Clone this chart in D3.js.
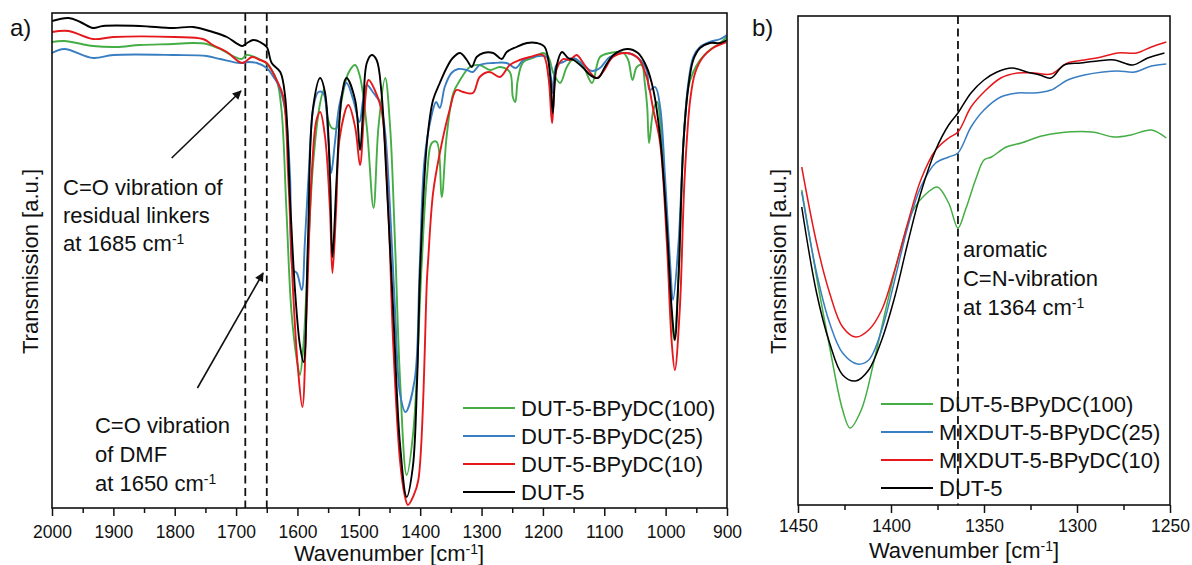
<!DOCTYPE html>
<html>
<head>
<meta charset="utf-8">
<script src="https://cdn.jsdelivr.net/npm/d3@7/dist/d3.min.js"></script>
<style>
  body { margin: 0; background: #fff; }
  svg { display: block; }
  text { font-family: 'Liberation Sans', Arial, Helvetica, sans-serif; fill: #111; }
</style>
</head>
<body>
<svg id="chart" width="1192" height="565"></svg>
<script>
// ---- panel a) spectra: [wavenumber, transmission (a.u.)] ----
const bpy100A = [[2000,466],[1980,467],[1933,462],[1895,461],[1857,463],[1802,464],[1770,465],[1748,464],[1726,459],[1705,452],[1691,449],[1683,453],[1666,450],[1650,444],[1634,428],[1626,398],[1618,298],[1610,198],[1601,148],[1596,133],[1590,165],[1582,265],[1574,348],[1563,405],[1557,418],[1550,388],[1544,380],[1536,380],[1528,408],[1517,435],[1506,443],[1498,431],[1487,381],[1476,300],[1468,381],[1457,430],[1449,381],[1441,265],[1433,131],[1422,33],[1411,78],[1398,238],[1389,331],[1381,365],[1373,366],[1365,311],[1357,371],[1346,415],[1335,428],[1319,441],[1303,443],[1286,438],[1270,441],[1254,436],[1249,411],[1245,406],[1241,428],[1232,446],[1216,450],[1200,455],[1191,451],[1183,435],[1172,425],[1161,441],[1150,449],[1134,441],[1120,425],[1107,451],[1091,455],[1069,455],[1061,448],[1054,428],[1047,441],[1039,443],[1034,425],[1030,401],[1027,365],[1020,398],[1014,406],[1006,365],[998,281],[990,191],[986,168],[979,231],[971,365],[963,421],[955,436],[944,448],[928,458],[911,465],[900,471]];

const bpy25A = [[2000,455],[1980,459],[1933,450],[1900,453],[1800,453],[1748,452],[1726,449],[1694,445],[1680,446],[1666,445],[1650,440],[1639,431],[1631,423],[1620,398],[1612,331],[1607,238],[1601,235],[1593,218],[1588,265],[1582,331],[1574,401],[1566,416],[1558,415],[1550,371],[1545,335],[1539,365],[1531,405],[1520,425],[1509,408],[1499,386],[1493,408],[1487,423],[1476,415],[1466,406],[1458,381],[1449,298],[1441,198],[1433,115],[1424,96],[1409,128],[1401,238],[1393,348],[1382,391],[1374,406],[1368,400],[1360,421],[1349,435],[1338,439],[1324,438],[1314,436],[1303,443],[1281,445],[1259,445],[1244,440],[1232,448],[1216,451],[1194,451],[1187,431],[1184,415],[1178,443],[1167,446],[1150,450],[1134,443],[1120,437],[1107,440],[1091,451],[1063,455],[1045,450],[1031,438],[1026,418],[1017,421],[1009,401],[1001,331],[993,248],[988,208],[979,265],[971,365],[963,425],[955,451],[944,461],[928,466],[911,469],[900,473]];

const bpy10A = [[2000,476],[1973,477],[1933,469],[1900,471],[1800,471],[1754,469],[1738,463],[1715,456],[1690,445],[1674,451],[1661,448],[1650,445],[1634,428],[1623,411],[1615,331],[1607,215],[1599,138],[1592,101],[1585,198],[1577,331],[1569,388],[1563,396],[1555,371],[1547,298],[1543,235],[1537,298],[1531,371],[1517,403],[1506,381],[1498,343],[1491,398],[1484,428],[1474,418],[1463,398],[1452,298],[1444,165],[1433,48],[1425,12],[1420,3],[1411,12],[1403,28],[1389,228],[1387,248],[1379,315],[1368,355],[1352,398],[1341,418],[1330,416],[1314,415],[1303,431],[1287,436],[1270,431],[1254,443],[1238,448],[1221,451],[1200,453],[1191,431],[1185,385],[1178,438],[1167,449],[1156,448],[1145,453],[1132,443],[1113,430],[1102,436],[1086,451],[1064,455],[1045,450],[1031,431],[1020,398],[1009,365],[998,265],[990,165],[985,138],[977,198],[969,331],[960,408],[952,435],[939,451],[923,460],[901,466]];

const dut5A = [[2000,487],[1973,490],[1954,486],[1933,480],[1917,482],[1857,482],[1803,480],[1770,481],[1738,476],[1715,471],[1690,462],[1682,465],[1672,468],[1661,466],[1650,461],[1642,445],[1628,436],[1620,411],[1612,308],[1604,218],[1596,163],[1590,146],[1583,265],[1575,398],[1563,430],[1555,415],[1547,331],[1543,251],[1536,331],[1528,411],[1520,430],[1506,408],[1498,358],[1493,398],[1487,445],[1479,453],[1471,448],[1463,415],[1455,331],[1444,198],[1433,65],[1422,11],[1412,41],[1405,128],[1400,238],[1389,365],[1379,408],[1368,425],[1357,440],[1347,450],[1335,455],[1324,448],[1316,441],[1308,451],[1297,455],[1281,455],[1267,449],[1259,456],[1243,461],[1226,465],[1210,465],[1197,461],[1188,431],[1184,395],[1178,441],[1169,456],[1159,450],[1150,448],[1134,440],[1123,433],[1110,430],[1099,441],[1085,453],[1063,459],[1045,455],[1031,441],[1020,418],[1009,371],[998,281],[990,198],[985,168],[979,231],[971,365],[963,421],[955,448],[944,460],[928,465],[911,465],[900,468]];

// ---- panel b) zoom 1450-1250 ----
const bpy100B = [[1448,315],[1440,228],[1433,158],[1426,95],[1422,77],[1416,95],[1409,145],[1402,202],[1395,255],[1388,295],[1380,313],[1375,318],[1369,302],[1364,277],[1360,295],[1354,328],[1350,345],[1346,348],[1338,358],[1330,362],[1319,369],[1310,372],[1292,373],[1280,368],[1271,370],[1260,375],[1252,367]];
const bpy25B = [[1448,313],[1440,232],[1433,182],[1426,152],[1418,141],[1412,145],[1405,175],[1398,225],[1391,278],[1384,318],[1376,342],[1369,348],[1364,352],[1357,378],[1350,395],[1341,408],[1332,412],[1323,412],[1314,415],[1305,425],[1296,430],[1286,433],[1278,434],[1269,433],[1260,439],[1252,441]];
const bpy10B = [[1448,338],[1440,262],[1433,212],[1426,178],[1419,168],[1412,175],[1405,195],[1398,235],[1391,282],[1384,325],[1376,355],[1369,367],[1364,373],[1357,398],[1350,413],[1341,427],[1332,432],[1323,432],[1314,431],[1305,442],[1296,445],[1287,448],[1278,452],[1268,452],[1260,458],[1252,463]];
const dut5B = [[1448,298],[1440,212],[1433,162],[1426,130],[1419,124],[1412,135],[1405,165],[1398,208],[1391,262],[1384,312],[1376,355],[1369,380],[1364,392],[1357,412],[1350,425],[1343,433],[1335,437],[1327,433],[1320,430],[1314,427],[1307,440],[1298,442],[1289,444],[1280,445],[1270,440],[1262,447],[1253,452]];

const ticksA = [2000, 1900, 1800, 1700, 1600, 1500, 1400, 1300, 1200, 1100, 1000, 900];
const ticksB = [1450, 1400, 1350, 1300, 1250];
const namesA = ["DUT-5-BPyDC(100)", "DUT-5-BPyDC(25)", "DUT-5-BPyDC(10)", "DUT-5"];
const namesB = ["DUT-5-BPyDC(100)", "MIXDUT-5-BPyDC(25)", "MIXDUT-5-BPyDC(10)", "DUT-5"];
const colors = ["#45ad45", "#3a7ec2", "#e5191c", "#000000"];

const svg = d3.select("#chart");

function superLabel(sel, main, sup, tail) {
    sel.append("tspan").text(main);
    sel.append("tspan").attr("dy", -7).style("font-size", "14px").text(sup);
    if (tail) sel.append("tspan").attr("dy", 7).text(tail);
}

function drawPanel(p) {
    const x = d3.scaleLinear().domain(p.xDomain).range([p.left, p.right]);
    const y = d3.scaleLinear().domain(p.yDomain).range([p.bottom, p.top]);
    const g = svg.append("g");

    // dashed markers
    p.markers.forEach(m => {
        g.append("line")
            .attr("x1", x(m)).attr("x2", x(m))
            .attr("y1", p.top).attr("y2", p.bottom)
            .attr("stroke", "#111").attr("stroke-width", 1.8)
            .attr("stroke-dasharray", "8,4.5");
    });

    const line = d3.line()
        .x(d => x(d[0]))
        .y(d => y(d[1]))
        .curve(d3.curveCatmullRom.alpha(0.5));

    g.append("clipPath").attr("id", "clip" + p.id)
        .append("rect").attr("x", p.left).attr("y", p.top)
        .attr("width", p.right - p.left).attr("height", p.bottom - p.top);

    g.append("g").attr("clip-path", `url(#clip${p.id})`)
        .selectAll("path")
        .data(p.series)
        .enter().append("path")
        .attr("d", (d) => line(d))
        .attr("fill", "none")
        .attr("stroke", (d, i) => colors[i])
        .attr("stroke-width", p.lw)
        .attr("stroke-linejoin", "round");

    // frame
    g.append("rect")
        .attr("x", p.left).attr("y", p.top)
        .attr("width", p.right - p.left).attr("height", p.bottom - p.top)
        .attr("fill", "none").attr("stroke", "#111").attr("stroke-width", 1.6);

    // axis: major + minor ticks
    const major = g.append("g")
        .attr("transform", `translate(0,${p.bottom})`)
        .call(d3.axisBottom(x).tickValues(p.ticks).tickSize(8).tickFormat(d3.format("d")));
    major.select(".domain").remove();
    major.selectAll("line").attr("stroke", "#111").attr("stroke-width", 1.5);
    major.selectAll("text")
        .attr("y", p.tickTextY).attr("dy", 0)
        .style("font-size", "17.5px")
        .style("font-family", "'Liberation Sans', Arial, sans-serif")
        .attr("fill", "#111");

    const minor = g.append("g")
        .attr("transform", `translate(0,${p.bottom})`)
        .call(d3.axisBottom(x).tickValues(p.minorTicks).tickSize(5).tickFormat(""));
    minor.select(".domain").remove();
    minor.selectAll("line").attr("stroke", "#111").attr("stroke-width", 1.5);

    // axis titles
    const xt = g.append("text")
        .attr("x", p.xTitleX).attr("y", p.xTitleY)
        .attr("text-anchor", "middle")
        .style("font-size", "22px");
    superLabel(xt, "Wavenumber [cm", "-1", "]");

    g.append("text")
        .attr("transform", `translate(${p.yTitleX},${(p.top + p.bottom) / 2 + 1}) rotate(-90)`)
        .attr("text-anchor", "middle")
        .style("font-size", "22px")
        .text("Transmission [a.u.]");

    g.append("text")
        .attr("x", p.tagX).attr("y", 36)
        .style("font-size", "24px")
        .text(p.tag);

    // legend
    const leg = g.append("g");
    p.names.forEach((name, i) => {
        const ly = p.legendY + i * 28;
        leg.append("line")
            .attr("x1", p.legendX).attr("x2", p.legendX + 52)
            .attr("y1", ly).attr("y2", ly)
            .attr("stroke", colors[i]).attr("stroke-width", 2);
        leg.append("text")
            .attr("x", p.legendX + 58).attr("y", ly + 8)
            .style("font-size", "22px")
            .text(name);
    });

    return { x, y, g };
}

const minorA = d3.range(950, 2000, 100);
const minorB = d3.range(1275, 1450, 50);

const a = drawPanel({
    id: "a", xDomain: [2000, 900], yDomain: [0, 495],
    left: 52, right: 727, top: 13, bottom: 508,
    series: [bpy100A, bpy25A, bpy10A, dut5A], lw: 1.9,
    markers: [1685, 1650], ticks: ticksA, minorTicks: minorA,
    tickTextY: 30, xTitleX: 389, xTitleY: 561, yTitleX: 38,
    tag: "a)", tagX: 10, names: namesA, legendX: 463, legendY: 408
});

const b = drawPanel({
    id: "b", xDomain: [1450, 1250], yDomain: [0, 489],
    left: 798, right: 1170, top: 16, bottom: 505,
    series: [bpy100B, bpy25B, bpy10B, dut5B], lw: 1.5,
    markers: [1364], ticks: ticksB, minorTicks: minorB,
    tickTextY: 27, xTitleX: 964, xTitleY: 558, yTitleX: 786,
    tag: "b)", tagX: 752, names: namesB, legendX: 881, legendY: 404
});

// ---- annotations (positioned in data units) ----
function textBlock(panel, wx, ty, lines, sup) {
    lines.forEach((l, i) => {
        const t = panel.g.append("text")
            .attr("x", panel.x(wx)).attr("y", panel.y(ty[i]))
            .style("font-size", "22px");
        if (i === lines.length - 1 && sup) superLabel(t, l, "-1");
        else t.text(l);
    });
}

textBlock(a, 1982, [313, 285, 257], ["C=O vibration of", "residual linkers", "at 1685 cm"], true);
textBlock(a, 1930, [75, 46, 17], ["C=O vibration", "of DMF", "at 1650 cm"], true);
textBlock(b, 1361.3, [248, 219, 190], ["aromatic", "C=N-vibration", "at 1364 cm"], true);

svg.append("defs").append("marker")
    .attr("id", "arrow")
    .attr("viewBox", "0 0 10 10")
    .attr("refX", 9).attr("refY", 5)
    .attr("markerWidth", 11).attr("markerHeight", 9)
    .attr("markerUnits", "userSpaceOnUse")
    .attr("orient", "auto")
    .append("path").attr("d", "M0,0 L10,5 L0,10 z").attr("fill", "#111");

const arrows = [[1805, 350, 1692, 417], [1763, 120, 1656, 235]];
a.g.selectAll(".arrow")
    .data(arrows)
    .enter().append("line")
    .attr("class", "arrow")
    .attr("x1", d => a.x(d[0])).attr("y1", d => a.y(d[1]))
    .attr("x2", d => a.x(d[2])).attr("y2", d => a.y(d[3]))
    .attr("stroke", "#111").attr("stroke-width", 1.6)
    .attr("marker-end", "url(#arrow)");
</script>
</body>
</html>
